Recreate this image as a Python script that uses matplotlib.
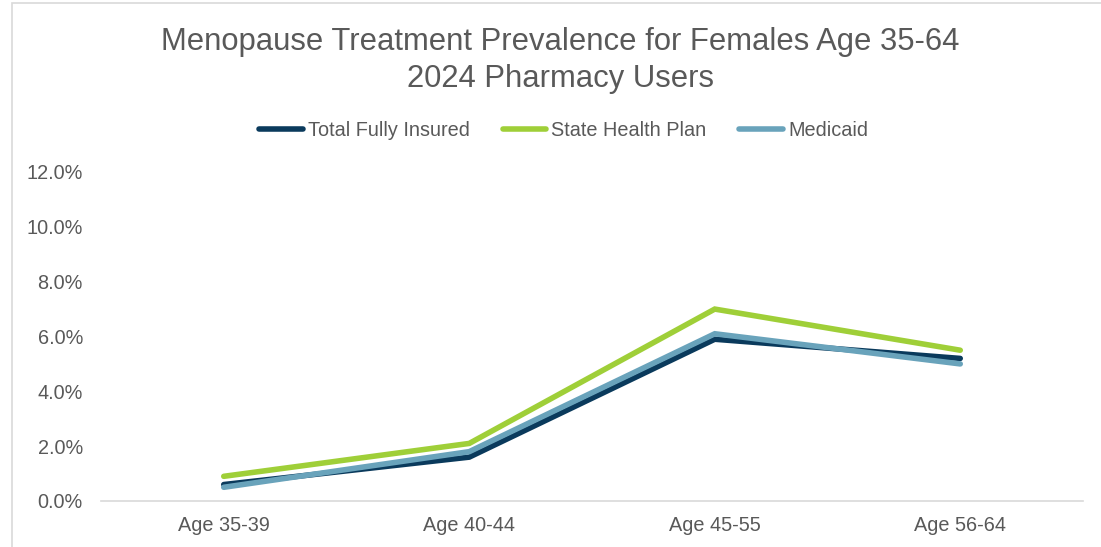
import matplotlib.pyplot as plt
from matplotlib.patches import Rectangle
from matplotlib.ticker import PercentFormatter

plt.rcParams['font.family'] = ['Liberation Sans', 'DejaVu Sans']

categories = ['Age 35-39', 'Age 40-44', 'Age 45-55', 'Age 56-64']
total_fully_insured = [0.6, 1.6, 5.9, 5.2]
state_health_plan = [0.9, 2.1, 7.0, 5.5]
medicaid = [0.5, 1.8, 6.1, 5.0]

series = [
    ('Total Fully Insured', total_fully_insured, '#0a3a5c'),
    ('State Health Plan', state_health_plan, '#9fcf38'),
    ('Medicaid', medicaid, '#69a3bb'),
]

text_color = '#595959'

fig = plt.figure(figsize=(11.01, 5.47), dpi=100)
# chart area border (cropped on right and bottom)
fig.patches.append(Rectangle((12 / 1101, -0.1), 1.2, 1 - 2.5 / 547 + 0.1,
                             transform=fig.transFigure, fill=False,
                             edgecolor='#d9d9d9', linewidth=1.2))

ax = fig.add_axes([101 / 1101, 1 - 501 / 547, 982 / 1101, (501 - 172) / 547])

x = range(len(categories))
for name, vals, color in series:
    ax.plot(x, vals, color=color, linewidth=4, solid_capstyle='round',
            solid_joinstyle='miter', label=name)

ax.set_xlim(-0.5, len(categories) - 0.5)
ax.set_ylim(0, 12)
ax.set_yticks([0, 2, 4, 6, 8, 10, 12])
ax.yaxis.set_major_formatter(PercentFormatter(decimals=1))
ax.set_xticks(list(x))
ax.set_xticklabels(categories)

for s in ['top', 'right', 'left']:
    ax.spines[s].set_visible(False)
ax.spines['bottom'].set_color('#d9d9d9')
ax.spines['bottom'].set_linewidth(1.2)
ax.tick_params(axis='both', length=0, labelsize=14.3, colors=text_color)
ax.tick_params(axis='y', pad=13)
ax.tick_params(axis='x', pad=11)

fig.text(0.509, 1 - 42 / 547, 'Menopause Treatment Prevalence for Females Age 35-64',
         ha='center', va='center', fontsize=22.3, color=text_color)
fig.text(0.509, 1 - 79 / 547, '2024 Pharmacy Users',
         ha='center', va='center', fontsize=22.3, color=text_color)

fig.legend(loc='center', bbox_to_anchor=(0.512, 1 - 130 / 547), ncol=3,
           frameon=False, fontsize=14.3, labelcolor=text_color,
           handlelength=2.2, handletextpad=0.25, columnspacing=1.65)

fig.savefig('out.png', dpi=100)
